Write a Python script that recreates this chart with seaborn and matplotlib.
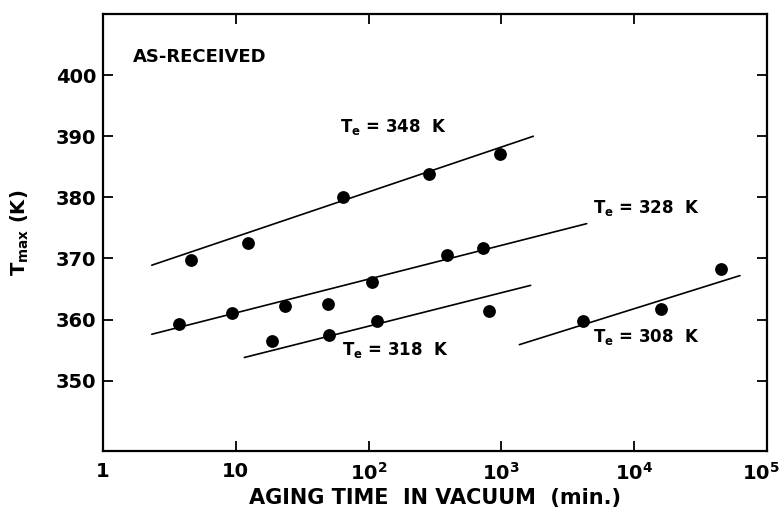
import numpy as np
import pandas as pd
import matplotlib
matplotlib.use("Agg")
import matplotlib.pyplot as plt
import matplotlib.transforms as mtransforms
import seaborn as sns

# ---- data ----
t348 = [4.6, 12.4, 64.5, 286, 976]
T348 = [369.8, 372.5, 380.1, 383.8, 387.1]

t328 = [3.73, 9.4, 23.5, 49.2, 105.5, 387, 731]
T328 = [359.3, 361.1, 362.2, 362.5, 366.2, 370.6, 371.7]

t318 = [18.6, 50.3, 115, 811]
T318 = [356.5, 357.4, 359.8, 361.4]

t308 = [4090, 15900, 45100]
T308 = [359.8, 361.7, 368.2]

# fitted lines (end points)
line_t = {"348": [2.33, 1740], "328": [2.33, 4390], "318": [11.6, 1660], "308": [1365, 62600]}
line_T = {"348": [368.9, 390.0], "328": [357.6, 375.7], "318": [353.8, 365.6], "308": [355.9, 367.2]}

series_labels = ["348", "328", "318", "308"]
xtick_vals = [1, 10, 100, 1000, 10000, 100000]
xtick_labels = ["1", "10", r"$\mathregular{10^{2}}$", r"$\mathregular{10^{3}}$",
                r"$\mathregular{10^{4}}$", r"$\mathregular{10^{5}}$"]
ytick_vals = [350, 360, 370, 380, 390, 400]

# ---- style ----
sns.set_theme(style="ticks")
plt.rcParams["font.family"] = ["DejaVu Sans"]
plt.rcParams["font.weight"] = "bold"
plt.rcParams["mathtext.fontset"] = "custom"
plt.rcParams["mathtext.rm"] = "DejaVu Sans:bold"
plt.rcParams["mathtext.it"] = "DejaVu Sans:bold"
plt.rcParams["mathtext.bf"] = "DejaVu Sans:bold"
plt.rcParams["text.color"] = "black"
plt.rcParams["axes.labelcolor"] = "black"
plt.rcParams["axes.labelweight"] = "bold"

pts = pd.DataFrame({
    "t": t348 + t328 + t318 + t308,
    "T": T348 + T328 + T318 + T308,
    "Te": ["348"] * len(t348) + ["328"] * len(t328) + ["318"] * len(t318) + ["308"] * len(t308),
})
lines = pd.DataFrame({
    "t": sum([line_t[k] for k in series_labels], []),
    "T": sum([line_T[k] for k in series_labels], []),
    "Te": sum([[k, k] for k in series_labels], []),
})

fig = plt.figure(figsize=(7.83, 5.14), dpi=100)
ax = fig.add_axes([103 / 783, 1 - 451 / 514, (767 - 103) / 783, (451 - 14) / 514])

sns.lineplot(data=lines, x="t", y="T", units="Te", estimator=None, color="black",
             linewidth=1.2, ax=ax, legend=False)
sns.scatterplot(data=pts, x="t", y="T", color="black", s=85, edgecolor="black",
                linewidth=0, ax=ax, legend=False, zorder=3)

ax.set_xscale("log")
ax.set_xlim(1, 1e5)
ax.set_ylim(338.5, 410)
ax.set_xticks(xtick_vals)
ax.set_xticklabels(xtick_labels)
ax.set_yticks(ytick_vals)
ax.xaxis.set_minor_locator(matplotlib.ticker.NullLocator())
ax.tick_params(axis="both", which="major", direction="in", length=7, width=1.3,
               top=True, right=True, labelsize=14, colors="black")
ax.tick_params(axis="x", pad=8)
ax.tick_params(axis="y", pad=5)
for lab in ax.get_xticklabels() + ax.get_yticklabels():
    lab.set_fontweight("bold")
# nudge the last x tick label so it stays inside the figure
last = ax.get_xticklabels()[-1]
last.set_transform(last.get_transform() + mtransforms.ScaledTranslation(-6 / 100, 0, fig.dpi_scale_trans))
for sp in ax.spines.values():
    sp.set_linewidth(1.6)
    sp.set_color("black")
    sp.set_visible(True)

ax.set_xlabel("AGING TIME  IN VACUUM  (min.)", fontsize=15, labelpad=3)
ax.set_ylabel(r"T$_\mathregular{max}$ (K)", fontsize=14, labelpad=18)

fs = 12
ax.text(1.68, 403.0, "AS-RECEIVED", fontsize=13, va="center", ha="left")
ax.text(61, 391.5, r"T$_\mathregular{e}$ = 348  K", fontsize=fs, va="center", ha="left")
ax.text(4900, 378.3, r"T$_\mathregular{e}$ = 328  K", fontsize=fs, va="center", ha="left")
ax.text(63, 355.1, r"T$_\mathregular{e}$ = 318  K", fontsize=fs, va="center", ha="left")
ax.text(4900, 357.2, r"T$_\mathregular{e}$ = 308  K", fontsize=fs, va="center", ha="left")

fig.savefig("out.png", dpi=100)
